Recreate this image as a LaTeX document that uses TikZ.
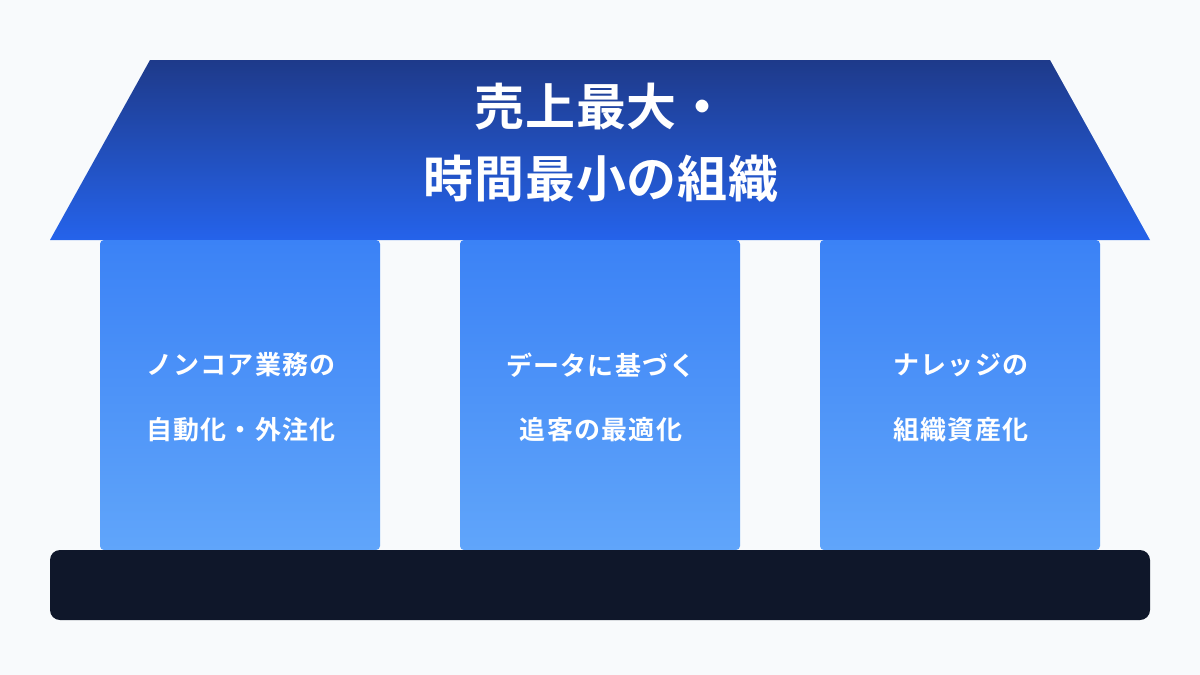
\documentclass[tikz,border=0pt]{standalone}
\usepackage{fontspec}
\newfontfamily\jpfont{Noto Sans CJK JP}[BoldFont={Noto Sans CJK JP Bold}]
\definecolor{bgc}{HTML}{F8FAFC}
\definecolor{rooftop}{HTML}{1E3A8A}
\definecolor{roofbot}{HTML}{2563EB}
\definecolor{pillartop}{HTML}{3B82F6}
\definecolor{pillarbot}{HTML}{60A5FA}
\definecolor{basec}{HTML}{0F172A}
\tikzset{
  pillar/.style={rounded corners=4pt, top color=pillartop, bottom color=pillarbot, draw=none},
  titletxt/.style={text=white, font=\jpfont\bfseries\fontsize{50}{58}\selectfont\addfontfeature{LetterSpace=1.5}, inner sep=0pt},
  pillartxt/.style={text=white, font=\jpfont\bfseries\fontsize{26}{32}\selectfont\addfontfeature{LetterSpace=5}, inner sep=0pt},
}
\begin{document}
\begin{tikzpicture}[x=1pt,y=-1pt]
\fill[bgc] (0,0) rectangle (1200,675);
\useasboundingbox (0,0) rectangle (1200,675);
% roof
\shade[top color=rooftop, bottom color=roofbot] (150,60) -- (1050,60) -- (1150,240) -- (50,240) -- cycle;
% pillars
\path[pillar] (100,240) rectangle (380,550);
\path[pillar] (460,240) rectangle (740,550);
\path[pillar] (820,240) rectangle (1100,550);
% base
\fill[basec, rounded corners=10pt] (50,550) rectangle (1150,620);
% texts
\node[titletxt] (t1) at (601,107) {売上最大・};
\node[titletxt] (t2) at (601,179) {時間最小の組織};
\node[pillartxt] (a1) at (241,365) {ノンコア業務の};
\node[pillartxt] (a2) at (241,430) {自動化・外注化};
\node[pillartxt] (b1) at (601,365) {データに基づく};
\node[pillartxt] (b2) at (601,430) {追客の最適化};
\node[pillartxt] (c1) at (961,365) {ナレッジの};
\node[pillartxt] (c2) at (961,430) {組織資産化};
\end{tikzpicture}
\end{document}
